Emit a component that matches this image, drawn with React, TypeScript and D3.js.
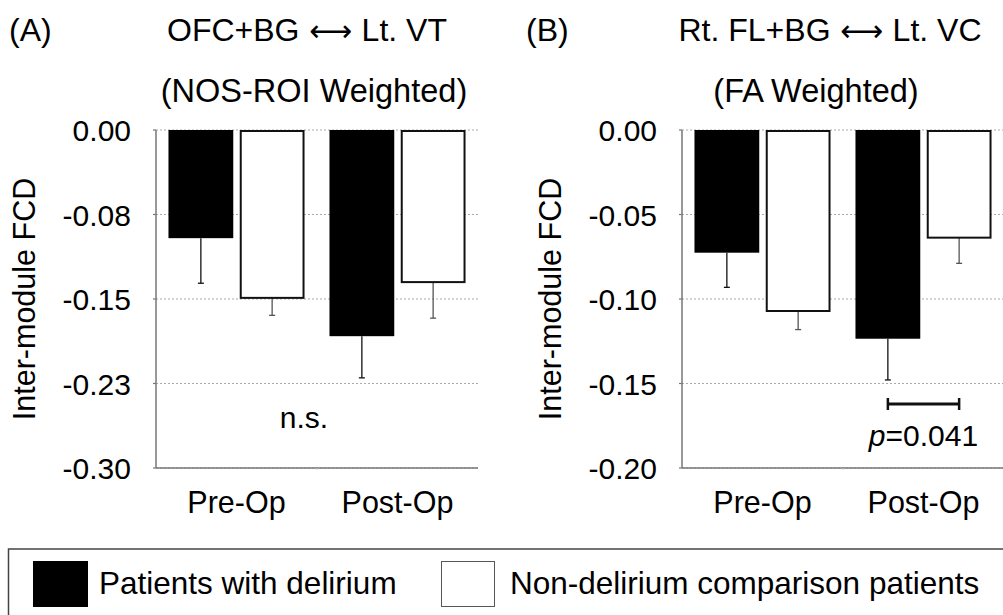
import React, { useEffect } from "react";
import * as d3 from "d3";

const categories = ["Pre-Op", "Post-Op"];
const groups = ["Patients with delirium", "Non-delirium comparison patients"];

// Panel A: OFC+BG <-> Lt. VT (NOS-ROI Weighted)
const meanA_delirium = [-0.096, -0.183];
const seA_delirium = [0.040, 0.037];
const meanA_control = [-0.149, -0.135];
const seA_control = [0.0155, 0.032];
const ticksA = [0, -0.075, -0.15, -0.225, -0.3];
const tickLabelsA = ["0.00", "-0.08", "-0.15", "-0.23", "-0.30"];

// Panel B: Rt. FL+BG <-> Lt. VC (FA Weighted)
const meanB_delirium = [-0.0726, -0.1235];
const seB_delirium = [0.0205, 0.0244];
const meanB_control = [-0.1071, -0.0637];
const seB_control = [0.011, 0.0152];
const ticksB = [0, -0.05, -0.1, -0.15, -0.2];
const tickLabelsB = ["0.00", "-0.05", "-0.10", "-0.15", "-0.20"];

const FONT = "'Liberation Sans', Arial, Helvetica, sans-serif";

type PanelProps = {
  left: number;
  right: number;
  domainMin: number;
  ticks: number[];
  tickLabels: string[];
  delirium: number[];
  deliriumSE: number[];
  control: number[];
  controlSE: number[];
  letter: string;
  letterX: number;
  title1a: string;
  title1b: string;
  title1X: number;
  title2: string;
  title2X: number;
  children?: (x0: d3.ScaleBand<string>, x1: d3.ScaleBand<string>, y: d3.ScaleLinear<number, number>) => React.ReactNode;
};

const TOP = 130;
const BOTTOM = 468;

function Panel(p: PanelProps) {
  const y = d3.scaleLinear().domain([p.domainMin, 0]).range([BOTTOM, TOP]);
  const x0 = d3.scaleBand<string>().domain(categories).range([p.left, p.right]).padding(0);
  const x1 = d3
    .scaleBand<string>()
    .domain(groups)
    .range([0, x0.bandwidth()])
    .paddingInner(0.091)
    .paddingOuter(0.175);

  const series = [
    { g: groups[0], vals: p.delirium, se: p.deliriumSE },
    { g: groups[1], vals: p.control, se: p.controlSE },
  ];

  return (
    <g>
      {/* titles */}
      <text x={p.letterX} y={41} fontSize={32} fontFamily={FONT}>
        {p.letter}
      </text>
      <text x={p.title1X} y={41} fontSize={32} textAnchor="middle" fontFamily={FONT}>
        {p.title1a}
        <tspan fontFamily="'DejaVu Sans', sans-serif" fontSize={30}>{" ⟷ "}</tspan>
        {p.title1b}
      </text>
      <text x={p.title2X} y={102} fontSize={32.5} textAnchor="middle" fontFamily={FONT}>
        {p.title2}
      </text>

      {/* gridlines */}
      {p.ticks.map((t, i) => (
        <line
          key={"g" + i}
          x1={p.left}
          x2={p.right}
          y1={y(t)}
          y2={y(t)}
          stroke="#aaa"
          strokeWidth={1}
          strokeDasharray="2,2"
        />
      ))}

      {/* bars */}
      {series.map((s, si) =>
        categories.map((c, ci) => {
          const bx = (x0(c) as number) + (x1(s.g) as number);
          const bw = x1.bandwidth();
          const v = s.vals[ci];
          const errEnd = v - s.se[ci];
          const cx = bx + bw / 2;
          const isBlack = si === 0;
          return (
            <g key={s.g + c}>
              <line
                x1={cx}
                x2={cx}
                y1={y(v)}
                y2={y(errEnd)}
                stroke={isBlack ? "#111" : "#555"}
                strokeWidth={1.3}
              />
              <line
                x1={cx - 3}
                x2={cx + 3}
                y1={y(errEnd)}
                y2={y(errEnd)}
                stroke={isBlack ? "#111" : "#555"}
                strokeWidth={1.3}
              />
              {isBlack ? (
                <rect x={bx} y={y(0)} width={bw} height={y(v) - y(0)} fill="#000" />
              ) : (
                <rect
                  x={bx + 1}
                  y={y(0) + 1}
                  width={bw - 2}
                  height={y(v) - y(0) - 1}
                  fill="#fff"
                  stroke="#111"
                  strokeWidth={2}
                />
              )}
            </g>
          );
        })
      )}

      {/* y axis */}
      <line x1={p.left} x2={p.left} y1={TOP} y2={BOTTOM} stroke="#777" strokeWidth={1.5} />
      {p.ticks.map((t, i) => (
        <g key={"t" + i}>
          <line x1={p.left - 3} x2={p.left} y1={y(t)} y2={y(t)} stroke="#777" strokeWidth={1.2} />
          <text
            x={p.left - 25}
            y={y(t) + 11}
            fontSize={30}
            textAnchor="end"
            fontFamily={FONT}
          >
            {p.tickLabels[i]}
          </text>
        </g>
      ))}
      <text
        transform={`translate(${p.left - 121},${(TOP + BOTTOM) / 2}) rotate(-90)`}
        fontSize={30.5}
        textAnchor="middle"
        fontFamily={FONT}
      >
        Inter-module FCD
      </text>

      {/* x axis */}
      <line x1={p.left} x2={p.right} y1={BOTTOM} y2={BOTTOM} stroke="#777" strokeWidth={1.5} />
      <line
        x1={x0(categories[1]) as number}
        x2={x0(categories[1]) as number}
        y1={BOTTOM}
        y2={BOTTOM + 2}
        stroke="#ccc"
        strokeWidth={1}
      />
      {categories.map((c) => (
        <text
          key={"xl" + c}
          x={(x0(c) as number) + x0.bandwidth() / 2}
          y={513}
          fontSize={30.5}
          textAnchor="middle"
          fontFamily={FONT}
        >
          {c}
        </text>
      ))}
      {p.children ? p.children(x0, x1, y) : null}
    </g>
  );
}

export default function App() {
  useEffect(() => {
    document.body.style.margin = "0";
    document.body.style.overflow = "hidden";
  }, []);

  return (
    <svg
      width={1003}
      height={615}
      style={{ position: "absolute", left: 0, top: 0, background: "#fff" }}
    >
      <rect x={0} y={0} width={1003} height={615} fill="#fff" />
      <Panel
        left={156}
        right={478}
        domainMin={-0.3}
        ticks={ticksA}
        tickLabels={tickLabelsA}
        delirium={meanA_delirium}
        deliriumSE={seA_delirium}
        control={meanA_control}
        controlSE={seA_control}
        letter="(A)"
        letterX={9}
        title1a="OFC+BG"
        title1b="Lt. VT"
        title1X={307}
        title2="(NOS-ROI Weighted)"
        title2X={314}
      >
        {() => (
          <text x={304} y={428} fontSize={30} textAnchor="middle" fontFamily={FONT}>
            n.s.
          </text>
        )}
      </Panel>
      <Panel
        left={682}
        right={1004}
        domainMin={-0.2}
        ticks={ticksB}
        tickLabels={tickLabelsB}
        delirium={meanB_delirium}
        deliriumSE={seB_delirium}
        control={meanB_control}
        controlSE={seB_control}
        letter="(B)"
        letterX={526}
        title1a="Rt. FL+BG"
        title1b="Lt. VC"
        title1X={830}
        title2="(FA Weighted)"
        title2X={816}
      >
        {(x0, x1) => {
          const c = categories[1];
          const xa = (x0(c) as number) + (x1(groups[0]) as number) + x1.bandwidth() / 2;
          const xb = (x0(c) as number) + (x1(groups[1]) as number) + x1.bandwidth() / 2;
          return (
            <g>
              <line x1={xa} x2={xb} y1={404} y2={404} stroke="#111" strokeWidth={3} />
              <line x1={xa} x2={xa} y1={398} y2={410} stroke="#111" strokeWidth={2.5} />
              <line x1={xb} x2={xb} y1={398} y2={410} stroke="#111" strokeWidth={2.5} />
              <text x={(xa + xb) / 2} y={446} fontSize={30} textAnchor="middle" fontFamily={FONT}>
                <tspan fontStyle="italic">p</tspan>=0.041
              </text>
            </g>
          );
        }}
      </Panel>

      {/* legend */}
      <rect x={8.5} y={549} width={1100} height={100} fill="none" stroke="#444" strokeWidth={1.5} />
      <rect x={33} y={561} width={55} height={46} fill="#000" />
      <text x={99} y={594} fontSize={31.5} fontFamily={FONT}>
        {groups[0]}
      </text>
      <rect x={441.5} y={561.5} width={53} height={45} fill="#fff" stroke="#555" strokeWidth={1} />
      <text x={510} y={594} fontSize={31.5} fontFamily={FONT}>
        {groups[1]}
      </text>
    </svg>
  );
}
